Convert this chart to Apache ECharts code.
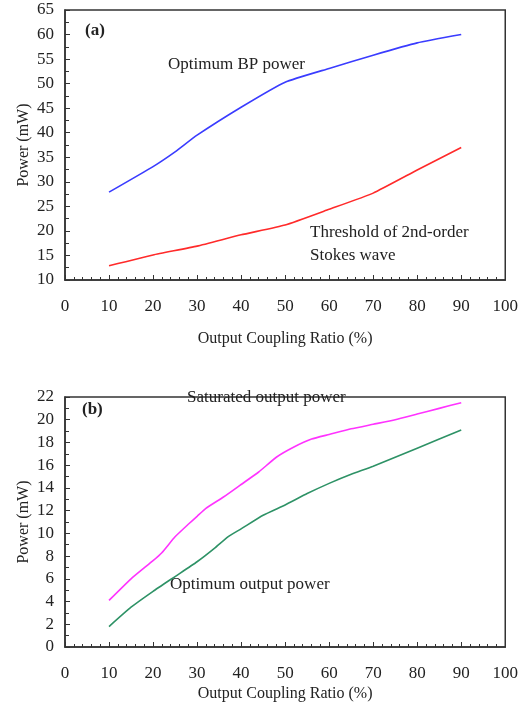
<!DOCTYPE html>
<html>
<head>
<meta charset="utf-8">
<script src="https://cdn.jsdelivr.net/npm/echarts@6/dist/echarts.min.js"></script>
<style>
  html, body { margin: 0; padding: 0; background: #fff; }
  #chart { width: 521px; height: 708px; }
</style>
</head>
<body>
<div id="chart"></div>
<script>
// (a) 上图数据
const ratioA = [10, 20, 25, 30, 40, 50, 60, 70, 80, 90]
const bpPower = [27.9, 33.1, 36.1, 39.5, 45.2, 50.3, 53.1, 55.8, 58.3, 60.0]
const ratioA2 = [10, 20, 30, 40, 50, 60, 70, 80, 90]
const threshold = [12.9, 15.1, 16.9, 19.2, 21.2, 24.4, 27.7, 32.4, 37.0]

// (b) 下图数据
const ratioSat = [10, 15, 20, 22, 25, 28, 30, 32, 36, 40, 44, 48, 52, 56, 60, 65, 70, 75, 80, 85, 90]
const satPower = [4.1, 6.0, 7.6, 8.3, 9.7, 10.8, 11.5, 12.2, 13.2, 14.3, 15.4, 16.7, 17.6, 18.3, 18.7, 19.2, 19.6, 20.0, 20.5, 21.0, 21.5]
const ratioOpt = [10, 15, 20, 25, 30, 34, 37, 40, 45, 50, 55, 60, 65, 70, 80, 90]
const optPower = [1.8, 3.5, 4.9, 6.2, 7.5, 8.7, 9.7, 10.4, 11.6, 12.5, 13.5, 14.4, 15.2, 15.9, 17.5, 19.1]

const xTicks = [0, 100, 10]
const yTicksA = [10, 65, 5]
const yTicksB = [0, 22, 2]

const FONT = '"Liberation Serif", "DejaVu Serif", serif'
const INK = '#222'

function pairs (xs, ys) {
  return xs.map((x, i) => [x, ys[i]])
}

function xAxisOf (gridIndex, nameGap) {
  return {
    type: 'value',
    gridIndex: gridIndex,
    min: xTicks[0],
    max: xTicks[1],
    interval: xTicks[2],
    name: 'Output Coupling Ratio (%)',
    nameLocation: 'middle',
    nameGap: nameGap,
    nameMoveOverlap: false,
    nameTextStyle: { fontFamily: FONT, fontSize: 16, color: INK },
    axisLine: { lineStyle: { color: '#333', width: 1.5 } },
    axisTick: { inside: true, length: 5, lineStyle: { color: '#333' } },
    minorTick: { show: true, splitNumber: 5, length: 3, lineStyle: { color: '#333' } },
    splitLine: { show: false },
    axisLabel: { fontFamily: FONT, fontSize: 17, color: INK, margin: 18 }
  }
}

function yAxisOf (gridIndex, ticks) {
  return {
    type: 'value',
    gridIndex: gridIndex,
    min: ticks[0],
    max: ticks[1],
    interval: ticks[2],
    name: 'Power (mW)',
    nameLocation: 'middle',
    nameGap: 33,
    nameMoveOverlap: false,
    nameTextStyle: { fontFamily: FONT, fontSize: 16, color: INK },
    axisLine: { lineStyle: { color: '#333', width: 1.5 } },
    axisTick: { inside: true, length: 5, lineStyle: { color: '#333' } },
    minorTick: { show: true, splitNumber: 2, length: 4, lineStyle: { color: '#333' } },
    splitLine: { show: false },
    axisLabel: { fontFamily: FONT, fontSize: 17, color: INK, margin: 11 }
  }
}

function note (text, left, top, bold) {
  return {
    type: 'text',
    left: left,
    top: top,
    style: {
      text: text,
      fontFamily: FONT,
      fontSize: 17,
      fontWeight: bold ? 'bold' : 'normal',
      fill: INK
    }
  }
}

function lineOf (data, color, xi) {
  return {
    type: 'line',
    xAxisIndex: xi,
    yAxisIndex: xi,
    data: data,
    symbol: 'none',
    smooth: 0.15,
    lineStyle: { color: color, width: 1.6 }
  }
}

const chart = echarts.init(document.getElementById('chart'))

const option = {
  backgroundColor: '#fff',
  animation: false,
  grid: [
    { left: 65, right: 13, top: 10, height: 270, show: true, borderColor: '#333', borderWidth: 1.5 },
    { left: 65, right: 15, top: 397, height: 250, show: true, borderColor: '#333', borderWidth: 1.5 }
  ],
  xAxis: [xAxisOf(0, 51), xAxisOf(1, 39)],
  yAxis: [yAxisOf(0, yTicksA), yAxisOf(1, yTicksB)],
  series: [
    lineOf(pairs(ratioA, bpPower), '#3a3cff', 0),
    lineOf(pairs(ratioA2, threshold), '#ff2a2a', 0),
    lineOf(pairs(ratioSat, satPower), '#ff33ff', 1),
    lineOf(pairs(ratioOpt, optPower), '#2e9266', 1)
  ],
  graphic: [
    note('(a)', 85, 22, true),
    note('Optimum BP power', 168, 56),
    note('Threshold of 2nd-order', 310, 224),
    note('Stokes wave', 310, 247),
    note('(b)', 82, 401, true),
    note('Saturated output power', 187, 389),
    note('Optimum output power', 170, 576)
  ]
}

chart.setOption(option)
</script>
</body>
</html>
